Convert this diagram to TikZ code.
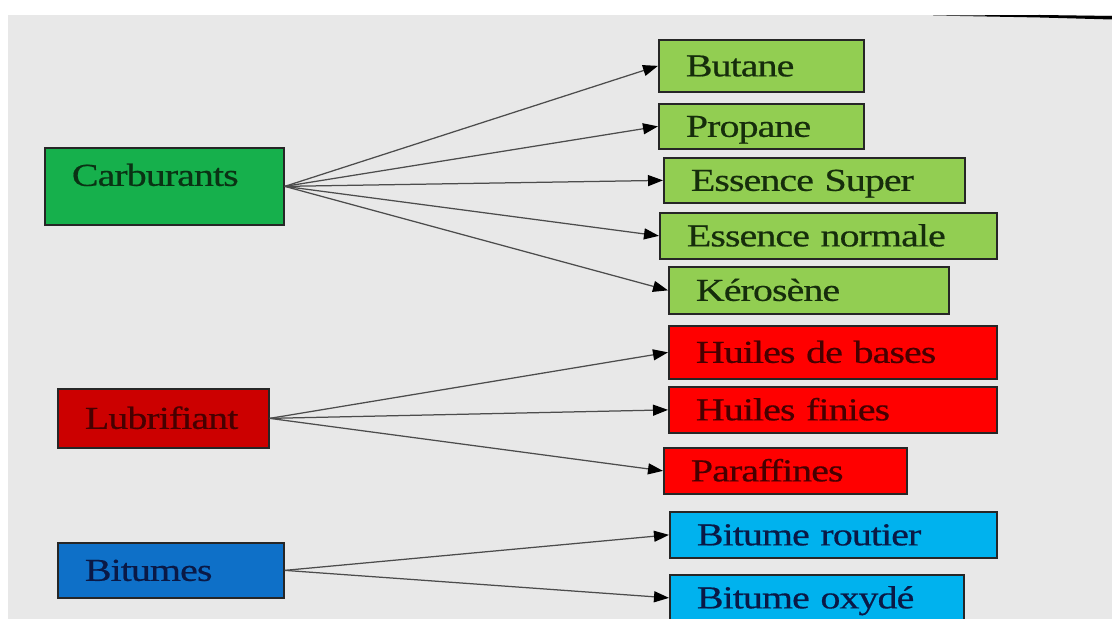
\documentclass[tikz,border=0pt]{standalone}
\usepackage{fontspec}
\setmainfont{Liberation Serif}[FakeStretch=1.25,LetterSpace=-3,FakeBold=0.5]
\usetikzlibrary{arrows.meta}

\tikzset{
  box/.style={draw=black!85, line width=0.035cm, anchor=north west,
    inner xsep=0.54cm, inner ysep=0pt, align=left,
    text height=0.42cm, text depth=0pt,
    font=\fontsize{18.2}{20}\selectfont},
  link/.style={draw=black!70, line width=0.025cm,
    -{Triangle[length=0.30cm,width=0.22cm,black]}},
}

\begin{document}
\begin{tikzpicture}
% Changing colors
\definecolor{bggray}{RGB}{232,232,232}%
\definecolor{carbgreen}{RGB}{22,176,76}%
\definecolor{prodgreen}{RGB}{146,206,82}%
\definecolor{lubred}{RGB}{204,0,0}%
\definecolor{prodred}{RGB}{255,0,0}%
\definecolor{bitblue}{RGB}{14,112,200}%
\definecolor{prodblue}{RGB}{0,178,238}%
\definecolor{carbtxt}{RGB}{10,50,20}%
\definecolor{greentxt}{RGB}{22,45,12}%
\definecolor{redtxt}{RGB}{70,0,0}%
\definecolor{bluetxt}{RGB}{10,25,70}%

% Drawing background
\useasboundingbox (0.000000,0.000000) rectangle (22.240000,12.380000);
\clip (0.000000,0.000000) rectangle (22.240000,12.380000);
\fill [white] (0.000000,0.000000) rectangle (22.240000,12.380000);%
\fill [bggray] (0.160000,0.000000) rectangle (22.240000,12.080000);%
\fill [black] (18.660000,12.070000) -- (20.800000,12.080000) -- (22.240000,12.060000) -- (22.240000,11.990000) -- (20.800000,12.030000) -- cycle;%

% Drawing families
\node [box, fill=carbgreen, text=carbtxt, text width=3.700000cm, minimum height=1.540000cm, text depth=0.44cm] (carb) at (0.880000,9.440000) {Carburants};%
\node [box, fill=lubred, text=redtxt, text width=3.140000cm, minimum height=1.180000cm] (lubr) at (1.140000,4.620000) {Lubrifiant};%
\node [box, fill=bitblue, text=bluetxt, text width=3.440000cm, minimum height=1.100000cm] (bitu) at (1.140000,1.540000) {Bitumes};%

% Drawing products
\node [box, fill=prodgreen, text=greentxt, text width=3.020000cm, minimum height=1.040000cm] (butane) at (13.160000,11.600000) {Butane};%
\node [box, fill=prodgreen, text=greentxt, text width=3.020000cm, minimum height=0.900000cm] (propane) at (13.160000,10.320000) {Propane};%
\node [box, fill=prodgreen, text=greentxt, text width=4.940000cm, minimum height=0.900000cm] (super) at (13.260000,9.240000) {Essence Super};%
\node [box, fill=prodgreen, text=greentxt, text width=5.660000cm, minimum height=0.920000cm] (normale) at (13.180000,8.140000) {Essence normale};%
\node [box, fill=prodgreen, text=greentxt, text width=4.520000cm, minimum height=0.940000cm] (kero) at (13.360000,7.060000) {Kérosène};%
\node [box, fill=prodred, text=redtxt, text width=5.480000cm, minimum height=1.060000cm] (bases) at (13.360000,5.880000) {Huiles de bases};%
\node [box, fill=prodred, text=redtxt, text width=5.480000cm, minimum height=0.920000cm] (finies) at (13.360000,4.660000) {Huiles finies};%
\node [box, fill=prodred, text=redtxt, text width=3.780000cm, minimum height=0.920000cm] (paraf) at (13.260000,3.440000) {Paraffines};%
\node [box, fill=prodblue, text=bluetxt, text width=5.460000cm, minimum height=0.920000cm] (routier) at (13.380000,2.160000) {Bitume routier};%
\node [box, fill=prodblue, text=bluetxt, text width=4.800000cm, minimum height=0.920000cm] (oxyde) at (13.380000,0.900000) {Bitume oxydé};%

% Drawing links
\foreach \p in {butane,propane,super,normale,kero}
  \draw [link] (carb.east) -- (\p.west);%
\foreach \p in {bases,finies,paraf}
  \draw [link] (lubr.east) -- (\p.west);%
\foreach \p in {routier,oxyde}
  \draw [link] (bitu.east) -- (\p.west);%
\end{tikzpicture}
\end{document}
